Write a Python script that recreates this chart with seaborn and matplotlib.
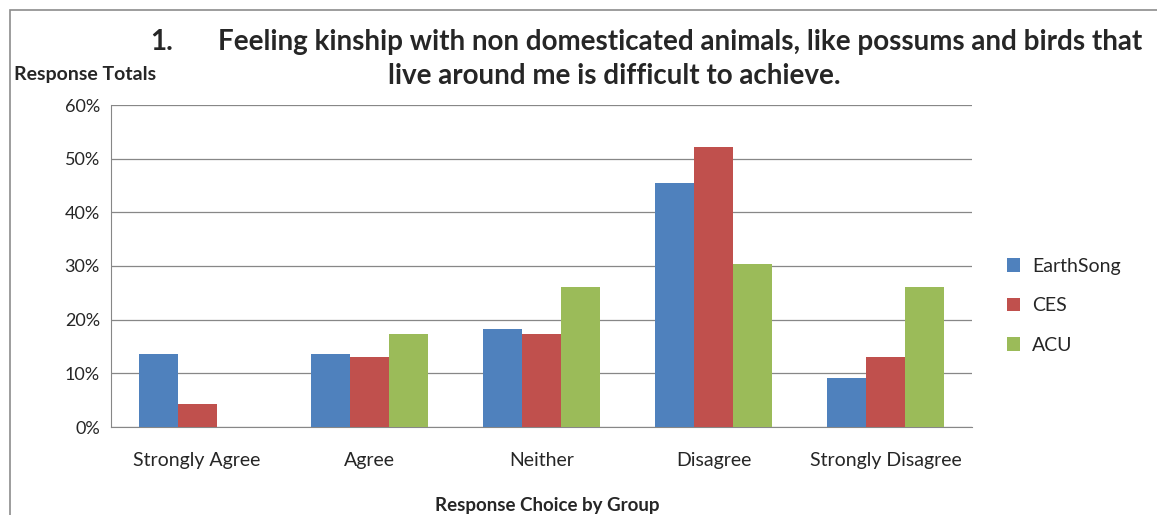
import pandas as pd
import matplotlib.pyplot as plt
import seaborn as sns
from matplotlib.patches import Rectangle
from matplotlib.ticker import PercentFormatter

# Response shares (%)
categories = ['Strongly Agree', 'Agree', 'Neither', 'Disagree', 'Strongly Disagree']
groups = ['EarthSong', 'CES', 'ACU']
earthsong = [13.6, 13.6, 18.2, 45.5, 9.1]
ces = [4.3, 13.0, 17.4, 52.2, 13.0]
acu = [0.0, 17.4, 26.1, 30.4, 26.1]
colors = ['#4F81BD', '#C0504D', '#9BBB59']

df = pd.DataFrame({
    'Response': categories * 3,
    'Group': [g for g in groups for _ in categories],
    'Share': earthsong + ces + acu,
})

sns.set_style('white')
plt.rcParams['font.family'] = ['Lato', 'DejaVu Sans']

fig = plt.figure(figsize=(11.57, 5.15), dpi=100)
ax = fig.add_axes([111 / 1157, 88 / 515, 861 / 1157, 322 / 515])

sns.barplot(data=df, x='Response', y='Share', hue='Group', order=categories,
            hue_order=groups, palette=colors, width=0.68, gap=0,
            saturation=1, linewidth=0, ax=ax, zorder=3)

# axes styling
ax.set_ylim(0, 60)
ax.set_xlim(-0.5, 4.5)
ax.yaxis.set_major_formatter(PercentFormatter(decimals=0))
ax.set_yticks(range(0, 61, 10))
ax.grid(axis='y', color='#878787', linewidth=0.9, zorder=0)
for s in ['top', 'right']:
    ax.spines[s].set_visible(False)
for s in ['left', 'bottom']:
    ax.spines[s].set_color('#878787')
ax.set_xticks([i + 0.5 for i in range(-1, 5)], minor=True)
ax.tick_params(axis='x', which='major', length=0, pad=18, labelsize=14)
ax.tick_params(axis='x', which='minor', length=6, color='#878787', direction='out')
ax.tick_params(axis='y', length=6, color='#878787', direction='out', labelsize=13, pad=2)
ax.set_xlabel('')
ax.set_ylabel('')

leg = ax.legend(loc='center left', bbox_to_anchor=(1.02, 0.376), frameon=False,
                fontsize=14, handlelength=0.7, handleheight=0.7,
                handletextpad=0.6, labelspacing=1.15)

# titles and labels
fig.text(150 / 1157, 1 - 42 / 515, '1.', fontsize=20, fontweight='bold', va='center')
fig.text(218 / 1157, 1 - 42 / 515,
         'Feeling kinship with non domesticated animals, like possums and birds that',
         fontsize=20, fontweight='bold', va='center')
fig.text(614 / 1157, 1 - 76 / 515, 'live around me is difficult to achieve.',
         fontsize=20, fontweight='bold', va='center', ha='center')
fig.text(14 / 1157, 1 - 75 / 515, 'Response Totals', fontsize=14,
         fontweight='bold', va='center')
fig.text(547 / 1157, 1 - 505 / 515, 'Response Choice by Group', fontsize=13.5,
         fontweight='bold', va='center', ha='center')

# chart-area border
fig.patches.append(Rectangle((10 / 1157, -0.2), 1.2, 1 - 10 / 515 + 0.2,
                             transform=fig.transFigure, fill=False,
                             edgecolor='#8c8c8c', linewidth=1.2))

fig.savefig('out.png', dpi=100)
